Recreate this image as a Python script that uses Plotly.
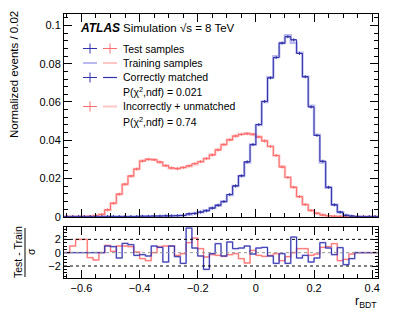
import numpy as np
import plotly.graph_objects as go
from plotly.subplots import make_subplots

# binning of r_BDT
bin_lo, bin_w, n_bins = -0.66, 0.02, 54
edges = np.round(bin_lo + bin_w * np.arange(n_bins + 1), 2)
centers = edges[:-1] + bin_w / 2

# correctly matched (blue), normalized events per bin
cm_train = [0, 0, 0, 0, 0, 0, 0, 0.0001, 0.0001, 0.0001, 0.0001, 0.0001, 0.0001, 0.0002,
            0.0002, 0.0003, 0.0003, 0.0004, 0.0004, 0.0005, 0.0007, 0.0012, 0.0017, 0.0024,
            0.0034, 0.0045, 0.0058, 0.0080, 0.0113, 0.0160, 0.0213, 0.0284, 0.0378, 0.0479,
            0.0600, 0.0729, 0.0839, 0.0909, 0.0949, 0.0910, 0.0857, 0.0732, 0.0580, 0.0428,
            0.0283, 0.0152, 0.0062, 0.0023, 0.0008, 0.0003, 0.0001, 0, 0, 0]
cm_test = [0, 0, 0, 0, 0, 0, 0, 0.0001, 0.0001, 0.0001, 0.0001, 0.0001, 0.0001, 0.0002,
           0.0002, 0.0003, 0.0003, 0.0004, 0.0004, 0.0005, 0.0006, 0.0015, 0.0017, 0.0024,
           0.0031, 0.0045, 0.0060, 0.0079, 0.0116, 0.0161, 0.0214, 0.0287, 0.0377, 0.0482,
           0.0603, 0.0726, 0.0832, 0.0908, 0.0941, 0.0925, 0.0854, 0.0732, 0.0574, 0.0425,
           0.0290, 0.0154, 0.0062, 0.0024, 0.0007, 0.0003, 0.0001, 0, 0, 0]

# incorrectly matched + unmatched (red)
im_train = [0, 0.00005, 0.0001, 0.0001, 0.0002, 0.0005, 0.0012, 0.0035, 0.0070, 0.0117,
            0.0169, 0.0212, 0.0249, 0.0292, 0.0301, 0.0298, 0.0285, 0.0266, 0.0254, 0.0252,
            0.0257, 0.0264, 0.0274, 0.0287, 0.0305, 0.0324, 0.0350, 0.0378, 0.0403, 0.0422,
            0.0432, 0.0437, 0.0430, 0.0418, 0.0397, 0.0368, 0.0320, 0.0263, 0.0206, 0.0154,
            0.0104, 0.0063, 0.0033, 0.0018, 0.0009, 0.0004, 0.0002, 0.0001, 0, 0, 0, 0, 0, 0]
im_test = [0, 0.00006, 0.00012, 0.00012, 0.0002, 0.0005, 0.0012, 0.0036, 0.0070, 0.0118,
           0.0170, 0.0213, 0.0249, 0.0291, 0.0300, 0.0298, 0.0286, 0.0267, 0.0255, 0.0251,
           0.0257, 0.0266, 0.0278, 0.0288, 0.0304, 0.0323, 0.0349, 0.0377, 0.0402, 0.0422,
           0.0430, 0.0434, 0.0431, 0.0417, 0.0396, 0.0367, 0.0320, 0.0260, 0.0205, 0.0154,
           0.0105, 0.0064, 0.0033, 0.0018, 0.0009, 0.0004, 0.0002, 0.0001, 0, 0, 0, 0, 0, 0]

# (test - train) / sigma
cm_pull = [0, 0, 0, 0, 0, 0, 0, 1.0, 0.9, -0.8, 1.4, 1.2, -0.4, -0.3, -0.5, 1.0, 0.8, -1.4,
           1.0, -0.6, -1.6, 3.7, 0.7, -0.5, -2.5, -0.15, 1.35, -0.5, 1.6, 0.6, 0.7, 1.0,
           -0.2, 0.7, 0.8, -0.5, -1.6, -0.15, -1.6, 2.35, -0.8, -0.4, -1.4, -0.8, 1.5, 0.7,
           -0.3, 0.75, -1.8, -0.9, 0, 0, 0, 0]
im_pull = [0, 1.0, 2.0, 2.0, -0.75, -1.1, 0, 1.1, 0.2, 1.0, 1.0, 0.9, 0.1, -0.9, -1.2, 0,
           0.9, 1.0, 1.0, -0.4, -0.15, 1.5, 2.2, 0.6, -0.65, -0.3, -0.4, -0.55, -0.3, -0.15,
           -0.9, -1.55, 0.35, -0.4, -0.55, -0.4, -0.15, -1.2, -0.6, 0.0, 0.6, 0.6, -0.4,
           -0.2, 0.8, 0.9, 1.35, -1.2, -1.0, -0.2, 0, 0, 0, 0]

blue = "rgb(50,50,170)"
blue_lt = "rgba(90,90,215,0.42)"
red = "rgb(255,110,110)"
red_lt = "rgba(255,120,120,0.42)"
font = "Liberation Sans, Arial, sans-serif"

# the page body adds an 8 px margin, so the figure is drawn 8 px in
page_off = 8
W, H = 399 - page_off, 328 - page_off
ml, mr, mt, mb = 64 - page_off, 21, 14 - page_off, 50


# helpers: page pixel -> paper fraction
def px(x):
    return (x - 64) / 314


def py(y):
    return (278 - y) / 264


def step(vals):
    return list(edges), list(vals) + [vals[-1]]


fig = make_subplots(rows=2, cols=1, shared_xaxes=True)

for tr, te, c, clt in [(im_train, im_test, red, red_lt), (cm_train, cm_test, blue, blue_lt)]:
    xs, ys = step(tr)
    fig.add_trace(go.Scatter(x=xs, y=ys, mode="lines", line=dict(color=clt, width=2.5, shape="hv"),
                             hoverinfo="skip"), row=1, col=1)
    xs, ys = step(te)
    fig.add_trace(go.Scatter(x=xs, y=ys, mode="lines", line=dict(color=c, width=1, shape="hv"),
                             hoverinfo="skip"), row=1, col=1)
    fig.add_trace(go.Scatter(x=centers, y=te, mode="markers", marker=dict(size=1, color=c),
                             error_x=dict(type="constant", value=bin_w / 2, color=c, thickness=1, width=0),
                             error_y=dict(type="constant", value=0.0008, color=c, thickness=1, width=0),
                             hoverinfo="skip"), row=1, col=1)

for p, c, w in [(im_pull, red_lt, 1.8), (im_pull, red, 1), (cm_pull, blue_lt, 1.8), (cm_pull, blue, 1)]:
    xs, ys = step(p)
    fig.add_trace(go.Scatter(x=xs, y=ys, mode="lines", line=dict(color=c, width=w, shape="hv"),
                             hoverinfo="skip"), row=2, col=1)

axis_common = dict(showline=True, linecolor="black", linewidth=1, mirror="ticks", ticks="inside",
                   tickcolor="black", showgrid=False, zeroline=False,
                   tickfont=dict(family=font, size=11, color="black"))

fig.update_xaxes(range=[-0.66, 0.42], dtick=0.2, tick0=0, ticklen=8,
                 minor=dict(ticks="inside", dtick=0.05, ticklen=4, tickcolor="black"), **axis_common)
fig.update_xaxes(showticklabels=False, row=1, col=1)
fig.update_yaxes(range=[0, 0.106], dtick=0.02, ticklen=8, domain=[py(216.7), 1.0],
                 minor=dict(ticks="inside", dtick=0.004, ticklen=4, tickcolor="black"),
                 row=1, col=1, **axis_common)
fig.update_yaxes(range=[-3.8, 3.9], tickvals=[-2, 0, 2], ticklen=6, domain=[0, py(226.7)],
                 minor=dict(ticks="inside", dtick=0.5, ticklen=3, tickcolor="black"),
                 row=2, col=1, **axis_common)

# reference lines in the ratio panel
for yv, col in [(2, "black"), (-2, "black"), (0, "rgb(150,150,150)")]:
    fig.add_shape(type="line", xref="x2 domain", yref="y2", x0=0, x1=1, y0=yv, y1=yv,
                  line=dict(color=col, width=1, dash="dot"))


# legend drawn by hand, ROOT style
def cross(xc, yc, col):
    fig.add_shape(type="line", xref="paper", yref="paper", x0=px(xc - 7), x1=px(xc + 7),
                  y0=py(yc), y1=py(yc), line=dict(color=col, width=1))
    fig.add_shape(type="line", xref="paper", yref="paper", x0=px(xc), x1=px(xc),
                  y0=py(yc - 5), y1=py(yc + 5), line=dict(color=col, width=1))


def seg(xc, yc, col, w=1.5):
    fig.add_shape(type="line", xref="paper", yref="paper", x0=px(xc - 7), x1=px(xc + 7),
                  y0=py(yc), y1=py(yc), line=dict(color=col, width=w))


rows = [48.5, 63, 77.5, 92, 106.5, 121]
cross(90, rows[0], blue); cross(110, rows[0], red)
seg(90, rows[1], blue_lt, 2); seg(110, rows[1], red_lt, 2)
cross(90, rows[2], blue); seg(110, rows[2], blue, 1.2)
cross(90, rows[4], red); seg(110, rows[4], red_lt, 2)

labels = ["Test samples", "Training samples", "Correctly matched", "P(χ<sup>2</sup>,ndf) = 0.021",
          "Incorrectly + unmatched", "P(χ<sup>2</sup>,ndf) = 0.74"]
for lab, yy in zip(labels, rows):
    fig.add_annotation(x=px(121), y=py(yy), xref="paper", yref="paper", text=lab, showarrow=False,
                       xanchor="left", yanchor="middle", font=dict(family=font, size=10.5, color="black"))

fig.add_annotation(x=px(78), y=py(28), xref="paper", yref="paper", text="<b><i>ATLAS</i></b>",
                   showarrow=False, xanchor="left", yanchor="middle",
                   font=dict(family=font, size=12, color="black"))
fig.add_annotation(x=px(121), y=py(28), xref="paper", yref="paper", text="Simulation √s = 8 TeV",
                   showarrow=False, xanchor="left", yanchor="middle",
                   font=dict(family=font, size=11.5, color="black"))

# axis titles
fig.add_annotation(x=px(14), y=py(75), xref="paper", yref="paper", text="Normalized events / 0.02",
                   textangle=-90, showarrow=False, xanchor="center", yanchor="middle",
                   font=dict(family=font, size=11.5, color="black"))
fig.add_annotation(x=px(18), y=py(252), xref="paper", yref="paper", text="Test - Train",
                   textangle=-90, showarrow=False, xanchor="center", yanchor="middle",
                   font=dict(family=font, size=10.5, color="black"))
fig.add_shape(type="line", xref="paper", yref="paper", x0=px(25), x1=px(25), y0=py(228), y1=py(277),
              line=dict(color="black", width=1))
fig.add_annotation(x=px(31), y=py(252), xref="paper", yref="paper", text="σ",
                   textangle=-90, showarrow=False, xanchor="center", yanchor="middle",
                   font=dict(family=font, size=10.5, color="black"))
fig.add_annotation(x=px(379), y=py(302), xref="paper", yref="paper", text="r<sub>BDT</sub>",
                   showarrow=False, xanchor="right", yanchor="middle",
                   font=dict(family=font, size=12.5, color="black"))

fig.update_layout(width=W, height=H, margin=dict(l=ml, r=mr, t=mt, b=mb),
                  plot_bgcolor="white", paper_bgcolor="white", showlegend=False)

fig.write_html("out.html")
